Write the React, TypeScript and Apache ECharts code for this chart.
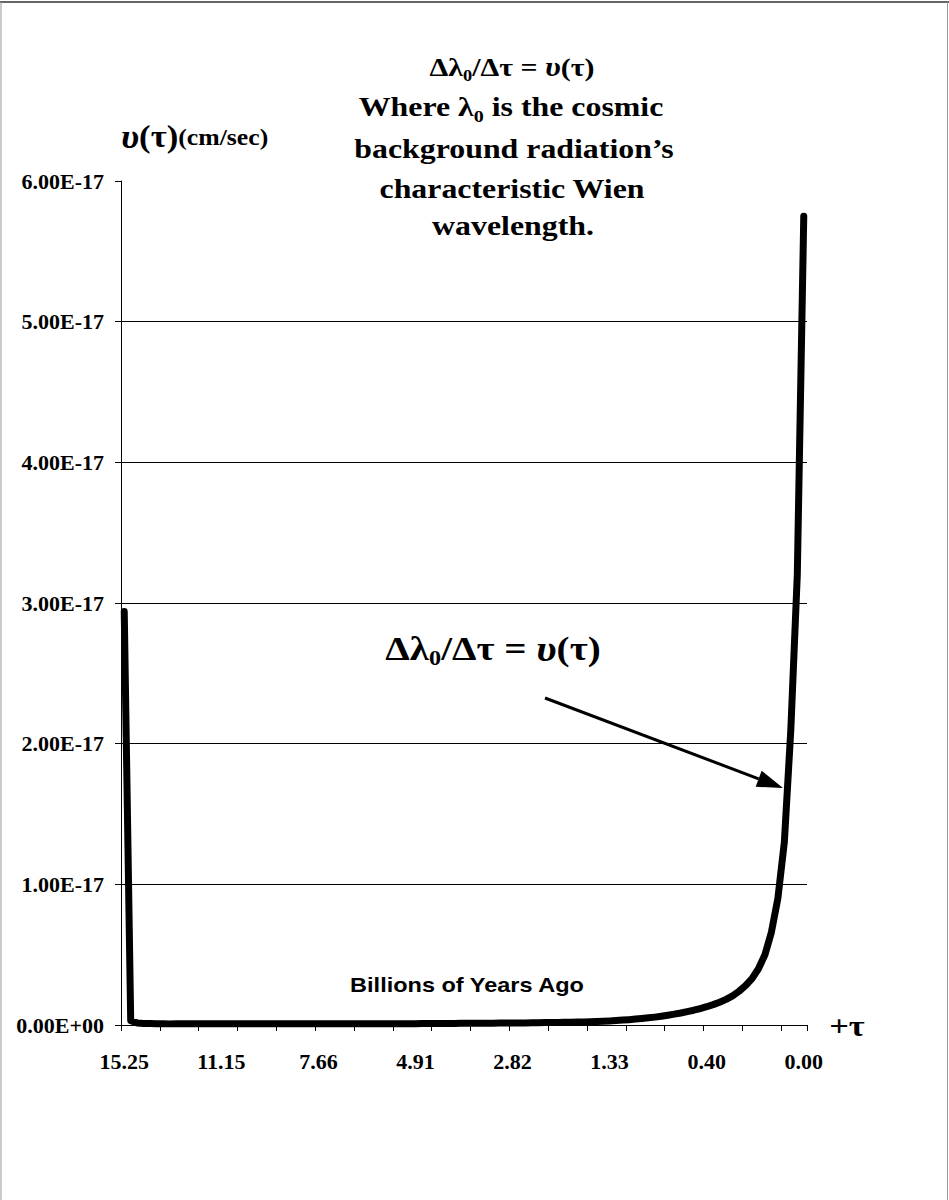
import React, { useEffect, useRef } from "react";
import * as echarts from "echarts";

// Category (tau, billions of years ago) labels shown every 15th point
const tauLabels = ["15.25", "11.15", "7.66", "4.91", "2.82", "1.33", "0.40", "0.00"];
const labelEvery = 15;
const tickEvery = 6;

// u(tau) in units of 1E-17 cm/sec, one value per category (106 points)
const uValues = [
  2.94, 0.03, 0.015, 0.011, 0.01, 0.009, 0.009, 0.008, 0.008, 0.008,
  0.008, 0.008, 0.008, 0.008, 0.008, 0.008, 0.008, 0.008, 0.008, 0.008,
  0.008, 0.008, 0.008, 0.008, 0.008, 0.008, 0.008, 0.008, 0.008, 0.008,
  0.008, 0.008, 0.008, 0.008, 0.008, 0.008, 0.008, 0.008, 0.008, 0.008,
  0.008, 0.008, 0.009, 0.009, 0.009, 0.009, 0.01, 0.01, 0.01, 0.011,
  0.011, 0.011, 0.012, 0.012, 0.012, 0.013, 0.013, 0.013, 0.014, 0.014,
  0.014, 0.015, 0.015, 0.016, 0.016, 0.017, 0.017, 0.018, 0.019, 0.02,
  0.021, 0.022, 0.023, 0.025, 0.027, 0.029, 0.032, 0.035, 0.038, 0.042,
  0.046, 0.051, 0.056, 0.062, 0.069, 0.077, 0.085, 0.095, 0.105, 0.117,
  0.13, 0.145, 0.162, 0.182, 0.207, 0.24, 0.28, 0.33, 0.4, 0.5,
  0.66, 0.9, 1.3, 2.1, 3.2, 5.75,
];

const yMin = 0;
const yMax = 6;
const yStep = 1;
const gridValues = [1, 2, 3, 4, 5];

const SERIF = '"Liberation Serif", "Times New Roman", serif';
const SANS = '"Liberation Sans", Arial, sans-serif';

function serifRich(size: number, small: number) {
  return {
    n: { fontSize: size, fontFamily: SERIF, fontWeight: "bold", fill: "#000", lineHeight: size + 8 },
    s: { fontSize: Math.round(size * 0.62), fontFamily: SERIF, fontWeight: "bold", fill: "#000", lineHeight: Math.round(size * 0.62) + 5, verticalAlign: "bottom" },
    u: { fontSize: size + 2, fontFamily: SERIF, fontWeight: "bold", fontStyle: "italic", fill: "#000", lineHeight: size + 8 },
    m: { fontSize: small, fontFamily: SERIF, fontWeight: "bold", fill: "#000", lineHeight: small + 4, verticalAlign: "middle" },
  };
}

function richText(x: number, y: number, text: string, size: number, align: string, scaleX: number, small = 20) {
  return {
    type: "text",
    x,
    y,
    scaleX,
    silent: true,
    style: {
      text,
      rich: serifRich(size, small),
      textAlign: align,
      textVerticalAlign: "middle",
      fill: "#000",
    },
  };
}

export default function App() {
  const ref = useRef<HTMLDivElement>(null);

  useEffect(() => {
    const chart = echarts.init(ref.current!, null, { renderer: "svg" });
    const categories = uValues.map((_, i) => String(i));

    // arrow geometry (annotation)
    const tip = [783, 788];
    const start = [545, 698];
    const dx = tip[0] - start[0];
    const dy = tip[1] - start[1];
    const len = Math.sqrt(dx * dx + dy * dy);
    const ux = dx / len;
    const uy = dy / len;
    const headLen = 26;
    const headHalf = 8.5;
    const bx = tip[0] - headLen * ux;
    const by = tip[1] - headLen * uy;

    const option: any = {
      animation: false,
      backgroundColor: "#fff",
      grid: { left: 121, right: 142, top: 181, bottom: 175, containLabel: false },
      xAxis: {
        type: "category",
        data: categories,
        boundaryGap: true,
        axisLine: { show: true, lineStyle: { color: "#000", width: 1 } },
        axisTick: { show: true, interval: tickEvery - 1, length: 6, inside: false, lineStyle: { color: "#000", width: 1 } },
        axisLabel: {
          interval: labelEvery - 1,
          margin: 25,
          color: "#000",
          fontFamily: SERIF,
          fontWeight: "bold",
          fontSize: 22,
          formatter: (_v: string, idx: number) =>
            idx % labelEvery === 0 ? tauLabels[idx / labelEvery] ?? "" : "",
        },
        splitLine: { show: false },
      },
      yAxis: {
        type: "value",
        min: yMin,
        max: yMax,
        interval: yStep,
        axisLine: { show: true, lineStyle: { color: "#000", width: 1 } },
        axisTick: { show: true, length: 6, inside: false, lineStyle: { color: "#000", width: 1 } },
        axisLabel: {
          margin: 17,
          color: "#000",
          fontFamily: SERIF,
          fontWeight: "bold",
          fontSize: 22,
          formatter: (v: number) => (v === 0 ? "0.00E+00" : v.toFixed(2) + "E-17"),
        },
        splitLine: { show: false },
      },
      series: [
        {
          type: "line",
          data: uValues,
          symbol: "none",
          smooth: false,
          lineStyle: { color: "#000", width: 7, cap: "round", join: "round" },
          markLine: {
            silent: true,
            symbol: ["none", "none"],
            label: { show: false },
            lineStyle: { color: "#000", width: 1, type: "solid" },
            data: gridValues.map((v) => ({ yAxis: v })),
          },
          z: 3,
        },
      ],
      graphic: [
        // outer frame
        { type: "line", silent: true, shape: { x1: 0, y1: 2, x2: 949, y2: 2 }, style: { stroke: "#333", lineWidth: 1.5 } },
        { type: "line", silent: true, shape: { x1: 1, y1: 2, x2: 1, y2: 1200 }, style: { stroke: "#999", lineWidth: 1 } },
        { type: "line", silent: true, shape: { x1: 947.5, y1: 2, x2: 947.5, y2: 1200 }, style: { stroke: "#999", lineWidth: 1 } },
        // title block
        richText(512, 67, "{n|Δλ}{s|0}{n|/Δτ = }{u|υ}{n|(τ)}", 26, "center", 1.15),
        richText(511, 107, "{n|Where λ}{s|0}{n| is the cosmic}", 27, "center", 1.18),
        richText(514, 149, "{n|background radiation’s}", 27, "center", 1.18),
        richText(512, 189, "{n|characteristic Wien}", 27, "center", 1.18),
        richText(513, 226, "{n|wavelength.}", 27, "center", 1.18),
        // y axis name
        richText(121, 137, "{u|υ}{n|(τ)}{m|(cm/sec)}", 31, "left", 1.12, 23),
        // curve annotation
        richText(493, 648, "{n|Δλ}{s|0}{n|/Δτ = }{u|υ}{n|(τ)}", 34, "center", 1.15),
        // arrow
        {
          type: "line",
          silent: true,
          shape: { x1: start[0], y1: start[1], x2: bx, y2: by },
          style: { stroke: "#000", lineWidth: 3 },
        },
        {
          type: "polygon",
          silent: true,
          shape: {
            points: [
              [tip[0], tip[1]],
              [bx - headHalf * uy, by + headHalf * ux],
              [bx + headHalf * uy, by - headHalf * ux],
            ],
          },
          style: { fill: "#000" },
        },
        // x axis caption
        {
          type: "text",
          x: 467,
          y: 985,
          scaleX: 1.12,
          silent: true,
          style: {
            text: "Billions of Years Ago",
            font: `bold 21px ${SANS}`,
            fill: "#000",
            textAlign: "center",
            textVerticalAlign: "middle",
          },
        },
        {
          type: "text",
          x: 847,
          y: 1026,
          scaleX: 1.15,
          silent: true,
          style: {
            text: "+τ",
            font: `bold 30px ${SERIF}`,
            fill: "#000",
            textAlign: "center",
            textVerticalAlign: "middle",
          },
        },
      ],
    };

    chart.setOption(option);
    return () => chart.dispose();
  }, []);

  return (
    <div
      ref={ref}
      style={{ position: "absolute", left: 0, top: 0, width: 949, height: 1200, background: "#fff" }}
    />
  );
}
